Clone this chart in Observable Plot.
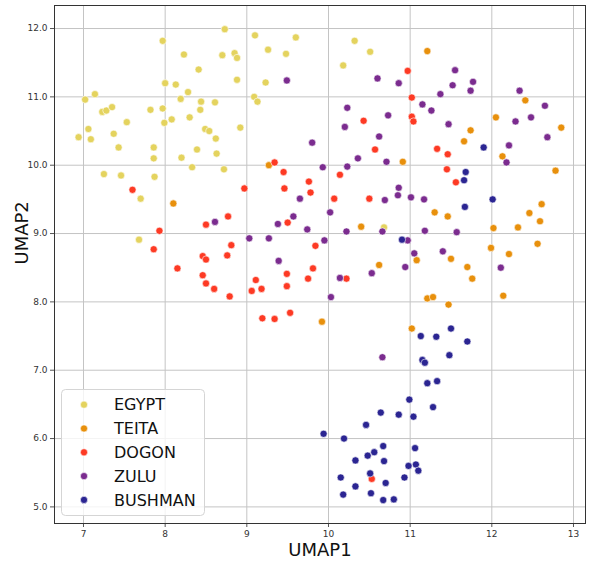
<!DOCTYPE html>
<html>
<head>
<meta charset="utf-8">
<script src="https://cdn.jsdelivr.net/npm/d3@7"></script>
<script src="https://cdn.jsdelivr.net/npm/@observablehq/plot@0.6"></script>
<style>
  body { margin: 0; background: #fff; }
  #wrap { position: relative; width: 589px; height: 563px; }
  #legend { position: absolute; left: 0; top: 0; pointer-events: none; }
</style>
</head>
<body>
<div id="wrap"></div>
<script>
const groups = ["EGYPT", "TEITA", "DOGON", "ZULU", "BUSHMAN"];
const colors = ["#e4d35e", "#e8900c", "#fd3a24", "#7b2c8f", "#2b2592"];
const xTicks = [7, 8, 9, 10, 11, 12, 13];
const yTicks = [5, 6, 7, 8, 9, 10, 11, 12];

const egypt = [
  [8.73,11.99],[7.97,11.82],[9.10,11.90],[9.60,11.87],[8.23,11.62],[8.70,11.61],[8.85,11.64],[8.88,11.57],
  [9.26,11.69],[9.48,11.63],[8.41,11.40],[8.88,11.25],[9.23,11.21],[8.00,11.20],[8.13,11.18],[8.28,11.07],
  [7.14,11.04],[7.02,10.96],[8.19,10.97],[9.09,11.00],[9.13,10.93],[8.44,10.93],[8.61,10.92],[7.23,10.78],
  [7.28,10.80],[7.35,10.85],[7.82,10.81],[7.97,10.83],[8.43,10.81],[8.08,10.67],[7.99,10.62],[8.30,10.70],
  [7.53,10.63],[7.06,10.53],[6.94,10.41],[7.09,10.38],[7.37,10.46],[8.49,10.53],[8.54,10.50],[8.92,10.55],
  [8.62,10.39],[7.43,10.26],[7.86,10.26],[8.39,10.23],[7.86,10.10],[8.20,10.11],[8.63,10.17],[8.33,9.97],
  [8.72,9.94],[7.25,9.87],[7.46,9.85],[7.87,9.83],[7.70,9.51],[10.32,11.82],[10.51,11.66],[10.18,11.46],
  [10.68,9.09],[7.68,8.91]
];
const teita = [
  [9.27,10.00],[11.21,11.67],[12.41,10.95],[12.05,10.70],[12.85,10.55],[11.74,10.51],[11.66,10.35],[12.13,10.13],
  [10.91,10.05],[12.78,9.92],[8.10,9.44],[11.30,9.31],[11.46,9.25],[12.61,9.43],[12.46,9.30],[12.59,9.18],
  [12.32,9.09],[12.02,9.08],[10.40,9.10],[11.08,8.61],[11.50,8.63],[11.99,8.79],[12.21,8.70],[12.56,8.85],
  [10.62,8.54],[11.70,8.51],[11.76,8.34],[11.21,8.05],[11.28,8.07],[12.14,8.09],[11.47,7.96],[9.92,7.71],
  [11.02,7.61]
];
const dogon = [
  [9.34,10.04],[9.45,9.90],[9.76,9.76],[9.78,9.60],[8.97,9.66],[9.46,9.66],[7.60,9.64],[10.97,11.38],
  [11.02,10.99],[11.02,10.71],[11.04,10.64],[10.43,10.65],[10.57,10.23],[11.33,10.24],[11.46,10.16],[11.45,9.94],
  [11.56,9.75],[10.14,9.86],[10.07,9.51],[10.50,9.51],[7.93,9.04],[7.86,8.77],[8.77,9.25],[8.50,9.13],
  [9.50,9.16],[8.81,8.83],[9.84,8.82],[8.46,8.67],[8.50,8.62],[8.76,8.68],[8.15,8.49],[9.81,8.49],
  [9.49,8.41],[8.46,8.39],[9.11,8.32],[9.75,8.34],[10.22,8.34],[8.50,8.27],[8.60,8.19],[9.06,8.16],
  [9.18,8.19],[9.49,8.23],[8.79,8.08],[9.19,7.76],[9.34,7.75],[9.53,7.84],[10.53,5.41]
];
const zulu = [
  [9.49,11.24],[9.80,10.33],[9.93,9.97],[9.65,9.51],[11.55,11.39],[10.60,11.27],[10.86,11.20],[11.77,11.22],
  [11.52,11.17],[11.74,11.09],[11.37,11.04],[12.34,11.09],[10.23,10.84],[11.15,10.89],[11.26,10.80],[12.65,10.87],
  [10.73,10.73],[10.20,10.56],[11.47,10.60],[12.29,10.64],[12.48,10.70],[10.62,10.42],[12.68,10.41],[12.21,10.29],
  [10.36,10.10],[10.23,9.98],[10.71,10.05],[12.18,10.04],[10.86,9.67],[10.85,9.56],[11.01,9.53],[10.69,9.49],
  [11.17,9.50],[10.02,9.31],[9.74,9.06],[10.22,9.03],[10.66,9.03],[11.18,9.04],[11.57,9.02],[10.97,8.90],
  [9.95,8.90],[11.05,8.71],[11.40,8.74],[10.94,8.51],[12.11,8.50],[10.14,8.35],[10.53,8.42],[10.03,8.07],
  [10.66,7.19],[8.61,9.17],[9.57,9.25],[9.38,9.14],[9.03,8.93],[9.27,8.93],[9.39,8.60]
];
const bushman = [
  [11.90,10.26],[11.68,9.90],[11.66,9.78],[12.01,9.50],[11.67,9.39],[10.90,8.91],[11.50,7.61],[11.13,7.50],
  [11.32,7.49],[11.70,7.42],[11.48,7.22],[11.15,7.15],[11.18,7.11],[11.33,6.84],[11.21,6.81],[10.99,6.57],
  [11.28,6.46],[10.64,6.38],[10.86,6.35],[11.04,6.32],[10.46,6.20],[9.94,6.07],[10.19,6.00],[10.67,5.89],
  [11.06,5.86],[10.56,5.80],[10.48,5.75],[10.33,5.68],[10.68,5.67],[11.07,5.62],[10.98,5.60],[11.10,5.53],
  [10.51,5.49],[10.15,5.43],[10.93,5.43],[10.70,5.35],[10.33,5.30],[10.18,5.18],[10.52,5.20],[10.67,5.10],
  [10.80,5.11]
];
const series = [egypt, teita, dogon, zulu, bushman];

const data = groups.flatMap((g, i) => series[i].map(([x, y]) => ({x, y, group: g})));

const chart = Plot.plot({
  width: 589,
  height: 563,
  marginLeft: 54,
  marginRight: 4,
  marginTop: 5,
  marginBottom: 40,
  style: {fontFamily: "DejaVu Sans", color: "#333", background: "#fff"},
  x: {domain: [6.645, 13.147]},
  y: {domain: [4.757, 12.337]},
  color: {domain: groups, range: colors},
  marks: [
    Plot.gridX(xTicks, {stroke: "#c4c4c4", strokeOpacity: 1, strokeWidth: 1}),
    Plot.gridY(yTicks, {stroke: "#c4c4c4", strokeOpacity: 1, strokeWidth: 1}),
    Plot.axisX(xTicks, {tickSize: 4, tickPadding: 3, fontSize: 9, label: null, stroke: "#555"}),
    Plot.axisY(yTicks, {tickSize: 4, tickPadding: 3, fontSize: 9, label: null, stroke: "#555"}),
    Plot.frame({stroke: "#333", strokeWidth: 1}),
    Plot.dot(data, {x: "x", y: "y", fill: "group", r: 3.6, stroke: "white", strokeWidth: 0.6}),
    Plot.text(["UMAP1"], {text: d => d, frameAnchor: "bottom", dy: 32, fontSize: 18, fill: "#111"}),
    Plot.text(["UMAP2"], {text: d => d, frameAnchor: "left", dx: -32, rotate: -90, fontSize: 18, fill: "#111"})
  ]
});

const wrap = document.getElementById("wrap");
wrap.appendChild(chart);

// Legend inside the plot, lower-left
const legend = d3.select(wrap).append("svg")
  .attr("id", "legend")
  .attr("width", 589).attr("height", 563);
const lx = 61, ly = 389, lw = 143, lh = 126;
legend.append("rect")
  .attr("x", lx + 0.5).attr("y", ly + 0.5).attr("width", lw).attr("height", lh)
  .attr("rx", 4).attr("fill", "rgba(255,255,255,0.8)").attr("stroke", "#d5d5d5");
groups.forEach((g, i) => {
  const cy = ly + 15.7 + i * 23.8;
  legend.append("circle").attr("cx", 84).attr("cy", cy).attr("r", 3.6)
    .attr("fill", colors[i]).attr("stroke", "white").attr("stroke-width", 0.6);
  legend.append("text").attr("x", 114).attr("y", cy).attr("dy", "0.36em")
    .attr("font-family", "DejaVu Sans").attr("font-size", 16).attr("fill", "#111").text(g);
});
</script>
</body>
</html>
